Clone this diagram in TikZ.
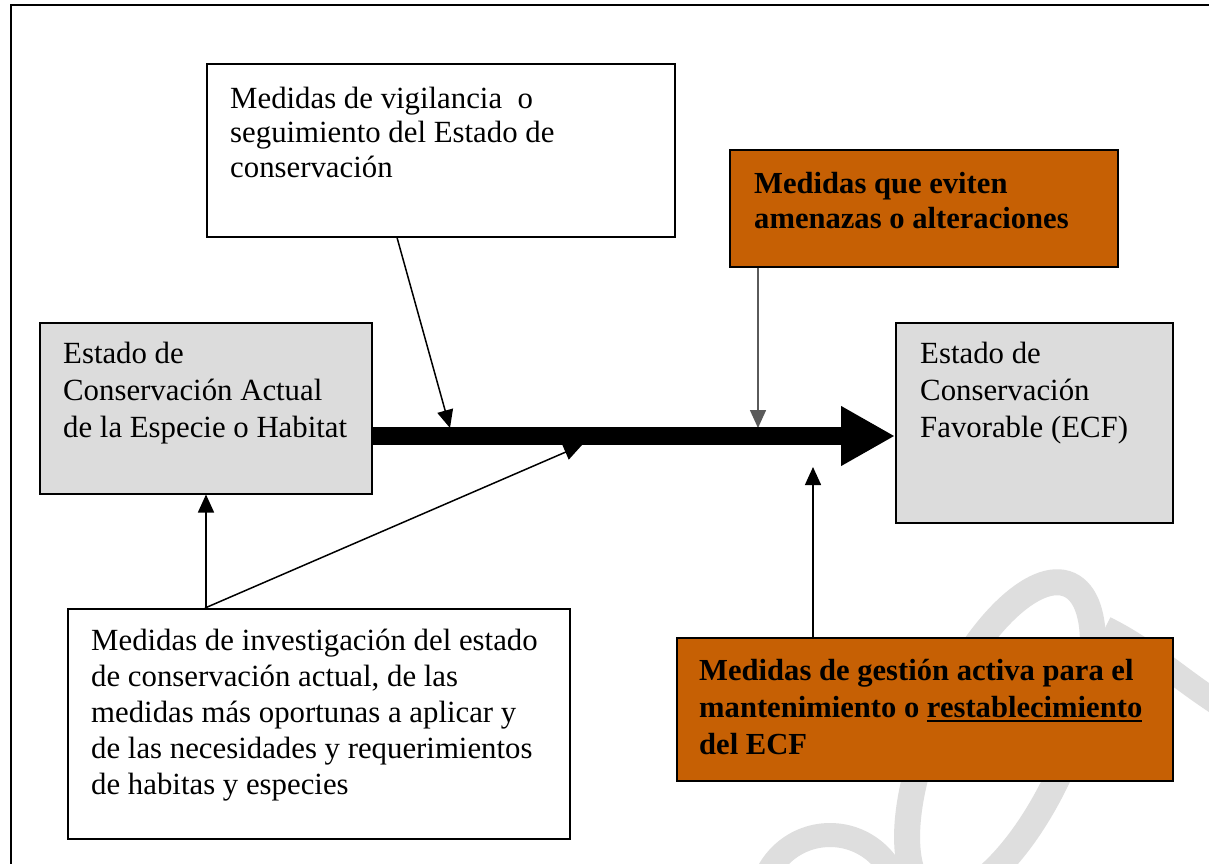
\documentclass[tikz,border=0pt]{standalone}
\usepackage{fontspec}
\setmainfont{Liberation Serif}
\usetikzlibrary{arrows.meta,calc}
\definecolor{boxgray}{RGB}{220,220,220}
\definecolor{rust}{RGB}{198,96,4}
\definecolor{wmgray}{RGB}{222,222,222}
\definecolor{tipgray}{RGB}{90,90,90}
\newcommand\myul[1]{\leavevmode\vtop{\hbox{#1}\kern2.5pt\hrule height 1.6pt}}
\newcommand\firstl{\rule{0pt}{24pt}}
\begin{document}
\begin{tikzpicture}[x=1pt,y=-1pt,
  box/.style={draw=black, line width=1.5pt, inner sep=0pt, anchor=north west},
  txt/.style={inner sep=0pt, anchor=north west, align=left},
  reg/.style={font=\fontsize{30.8}{#1}\selectfont},
  bld/.style={font=\fontsize{30.6}{#1}\selectfont\bfseries},
  tip/.style={-{Triangle[length=18pt,width=16pt]}, line width=1.5pt},
  bigarrow/.style={line width=18pt, -{Triangle[length=54pt,width=56pt]}}]
\useasboundingbox (0,0) rectangle (1209,863);
\fill[white] (0,0) rectangle (1209,863);
% watermark
\begin{scope}
\clip (0,0) rectangle (1209,863);
\draw[wmgray, line width=26pt, rotate around={-24:(1000,740)}] (1000,740) ellipse [x radius=68, y radius=170];
\draw[wmgray, line width=24pt] (1105,628) .. controls (1150,650) and (1180,680) .. (1225,708);
\draw[wmgray, line width=24pt] (830,905) circle [radius=70];
\end{scope}
% frame
\draw[line width=2pt] (11,870) -- (11,5) -- (1215,5);
% boxes
\node[box, fill=white, minimum width=468pt, minimum height=173pt] (vig) at (206,63) {};
\node[box, fill=rust, minimum width=388pt, minimum height=117pt] (amen) at (729,149) {};
\node[box, fill=boxgray, minimum width=332pt, minimum height=171pt] (estA) at (39,322) {};
\node[box, fill=boxgray, minimum width=277pt, minimum height=200pt] (estF) at (895,322) {};
\node[box, fill=white, minimum width=502pt, minimum height=230pt] (inv) at (67,608) {};
\node[box, fill=rust, minimum width=496pt, minimum height=143pt] (gest) at (676,637) {};
% texts
\node[txt, reg=34.5] (tvig) at (230,84) {\firstl Medidas de vigilancia\ \ o\\seguimiento del Estado de\\conservación};
\node[txt, bld=35] (tamen) at (754,169) {\firstl Medidas que eviten\\amenazas o alteraciones};
\node[txt, reg=37] (testA) at (63,339) {\firstl Estado de\\Conservación Actual\\de la Especie o Habitat};
\node[txt, reg=37] (testF) at (920,339) {\firstl Estado de\\Conservación\\Favorable (ECF)};
\node[txt, reg=36] (tinv) at (91,626) {\firstl Medidas de investigación del estado\\de conservación actual, de las\\medidas más oportunas a aplicar y\\de las necesidades y requerimientos\\de habitas y especies};
\node[txt, bld=37] (tgest) at (699,656) {\firstl Medidas de gestión activa para el\\mantenimiento o \myul{restablecimiento}\\del ECF};
% connector targets
\coordinate (mainy) at (0,436);
\coordinate (t1) at (450,428);
\coordinate (t2) at (582,445);
\coordinate (t3) at (758,428);
\coordinate (t4) at (813,467);
% connectors
\draw[tip] ($(vig.south west)+(191,0)$) -- (t1);
\draw[tip] ($(inv.north west)+(138,0)$) -- (t2);
\draw[tip, draw=tipgray] ($(amen.south west)+(29,0)$) -- (t3);
\draw[tip] ($(gest.north west)+(137,0)$) -- (t4);
\draw[tip] ($(inv.north west)+(139,0)$) -- ($(estA.south west)+(167,0)$);
\draw[bigarrow] (estA.east |- mainy) -- (estF.west |- mainy);
\end{tikzpicture}
\end{document}
